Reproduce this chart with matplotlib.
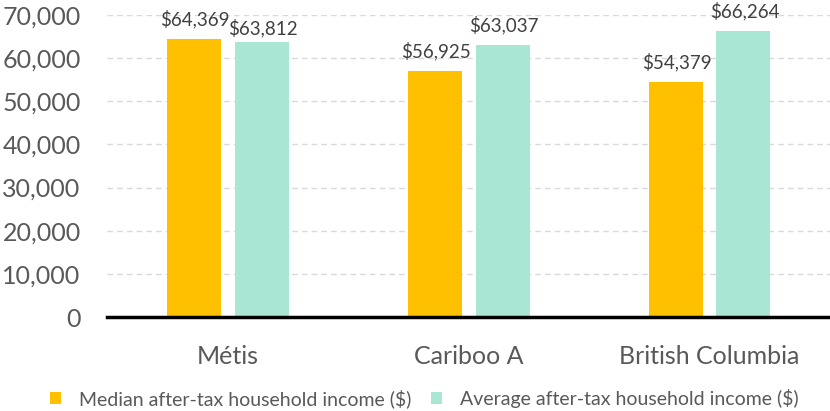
import matplotlib.pyplot as plt
import numpy as np

plt.rcParams['font.family'] = ['Lato', 'DejaVu Sans']

categories = ['Métis', 'Cariboo A', 'British Columbia']
median_income = [64369, 56925, 54379]
average_income = [63812, 63037, 66264]
series_names = ['Median after-tax household income ($)', 'Average after-tax household income ($)']
yticks = [0, 10000, 20000, 30000, 40000, 50000, 60000, 70000]

# label gap above each bar, in points (the Métis average label sits lower)
median_gap = [10, 10, 10]
average_gap = [5.5, 10, 10]

x = np.arange(len(categories))
w = 0.224
off = 0.141

fig = plt.figure(figsize=(8.3, 4.11), dpi=100)
ax = fig.add_axes([0.129, 0.2287, 0.871, 0.735])

b1 = ax.bar(x - off, median_income, width=w, color='#ffc000', label=series_names[0], zorder=3)
b2 = ax.bar(x + off, average_income, width=w, color='#a9e6d3', label=series_names[1], zorder=3)

for bars, vals, gaps in [(b1, median_income, median_gap), (b2, average_income, average_gap)]:
    for b, v, g in zip(bars, vals, gaps):
        ax.annotate('${:,}'.format(v), (b.get_x() + b.get_width() / 2, v),
                    xytext=(1, g), textcoords='offset points', ha='center', va='baseline',
                    fontsize=13.5, color='#404040')

ax.set_xlim(-0.5, 2.5)
ax.set_ylim(0, 70000)
ax.set_yticks(yticks)
ax.set_yticklabels(['{:,}'.format(t) for t in yticks])
ax.set_xticks(x)
ax.set_xticklabels(categories)
ax.tick_params(axis='y', length=0, labelsize=18, labelcolor='#595959', pad=19)
ax.tick_params(axis='x', length=0, labelsize=18, labelcolor='#595959', pad=20)

ax.grid(axis='y', color='#d9d9d9', linestyle='--', linewidth=1, dashes=(4, 3), zorder=0)
for s in ['top', 'right', 'left']:
    ax.spines[s].set_visible(False)
ax.spines['bottom'].set_linewidth(2.5)
ax.spines['bottom'].set_color('black')
ax.spines['bottom'].set_zorder(4)

fig.legend(handles=[b1, b2], loc='lower center', bbox_to_anchor=(0.511, -0.035), ncol=2, frameon=False,
           fontsize=14, labelcolor='#595959', handlelength=0.6, handleheight=0.6,
           handletextpad=0.9, columnspacing=1.0)

fig.savefig('out.png', dpi=100)
